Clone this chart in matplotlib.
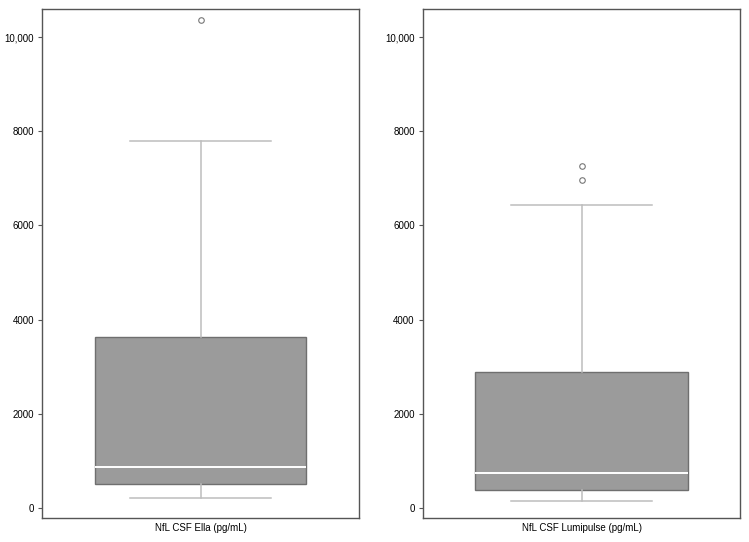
import matplotlib

matplotlib.use("Agg")

import matplotlib.pyplot as plt
from matplotlib.ticker import FixedLocator

plt.rcParams["font.family"] = ["Liberation Sans", "DejaVu Sans"]

# summary statistics (pg/mL)
labels = ["NfL CSF Ella (pg/mL)", "NfL CSF Lumipulse (pg/mL)"]
whisker_low = [213, 147]
q1 = [520, 374]
median = [872, 740]
q3 = [3636, 2889]
whisker_high = [7801, 6444]
outliers = [[10352], [7258, 6965]]

y_ticks = [0, 2000, 4000, 6000, 8000, 10000]
y_tick_labels = ["0", "2000", "4000", "6000", "8000", "10,000"]

fig = plt.figure(figsize=(7.49, 5.42), dpi=100)
axes = [
    fig.add_axes([0.0565, 0.0448, 0.4224, 0.938]),
    fig.add_axes([0.5648, 0.0448, 0.4232, 0.938]),
]

for i, ax in enumerate(axes):
    stats = [{
        "whislo": whisker_low[i],
        "q1": q1[i],
        "med": median[i],
        "q3": q3[i],
        "whishi": whisker_high[i],
        "fliers": outliers[i],
    }]
    ax.bxp(
        stats,
        positions=[1],
        widths=0.669,
        capwidths=0.447,
        patch_artist=True,
        showfliers=True,
        boxprops=dict(facecolor="#9b9b9b", edgecolor="#6f6f6f", linewidth=1.0),
        medianprops=dict(color="white", linewidth=1.4),
        whiskerprops=dict(color="#bdbdbd", linewidth=1.1),
        capprops=dict(color="#bdbdbd", linewidth=1.1),
        flierprops=dict(marker="o", markersize=4, markerfacecolor="none",
                        markeredgecolor="#777777", markeredgewidth=0.8),
    )
    ax.set_xlim(0.5, 1.5)
    ax.set_ylim(-206, 10588)
    ax.yaxis.set_major_locator(FixedLocator(y_ticks))
    ax.set_yticklabels(y_tick_labels, fontsize=7)
    ax.set_xticks([])
    ax.set_xlabel(labels[i], fontsize=7, labelpad=4)
    ax.tick_params(axis="y", length=3, width=0.8, color="#555555", pad=3)
    for spine in ax.spines.values():
        spine.set_color("#555555")
        spine.set_linewidth(1.0)

fig.savefig("out.png", dpi=100)
